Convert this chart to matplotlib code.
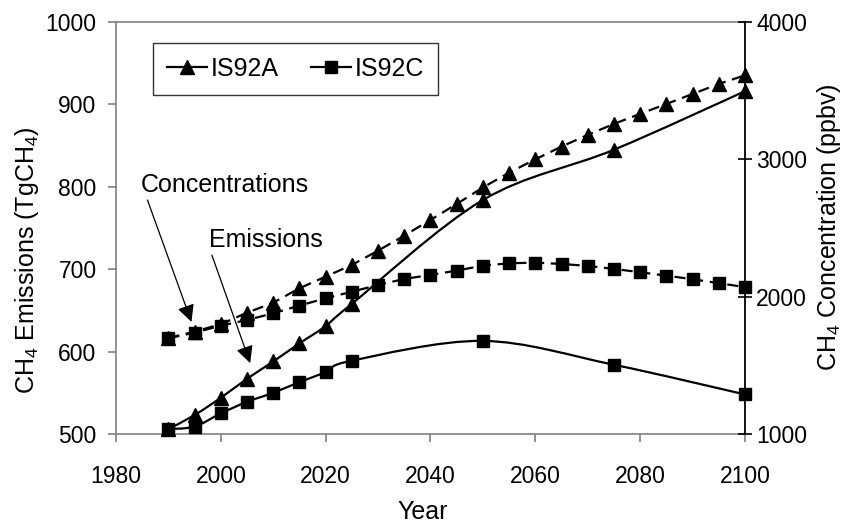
import numpy as np
import matplotlib
matplotlib.use("Agg")
import matplotlib.pyplot as plt
from matplotlib.path import Path
from matplotlib.patches import PathPatch
from matplotlib.lines import Line2D

plt.rcParams['font.family'] = ['Liberation Sans', 'DejaVu Sans']
plt.rcParams['mathtext.default'] = 'regular'

# Emissions (TgCH4), left axis
emis_years = [1990, 1995, 2000, 2005, 2010, 2015, 2020, 2025, 2050, 2075, 2100]
emis_a = [506, 523, 544, 567, 588, 610, 631, 658, 784, 845, 916]
emis_c = [506, 509, 525, 539, 550, 563, 575, 589, 613, 584, 548]

# Concentrations (ppbv), right axis
conc_years = list(range(1990, 2101, 5))
conc_a = [1700, 1745, 1800, 1883, 1956, 2061, 2146, 2231, 2335, 2445, 2559, 2675,
          2795, 2903, 3000, 3093, 3178, 3258, 3331, 3403, 3476, 3549, 3612]
conc_c = [1697, 1738, 1789, 1830, 1879, 1935, 1988, 2036, 2085, 2129, 2158, 2190,
          2226, 2243, 2248, 2238, 2224, 2202, 2178, 2153, 2127, 2098, 2070]

GRAY = '#808080'
TICK_FS = 16.5
TEXT_FS = 18


def smooth_path(xs, ys):
    # bezier segments with catmull-rom style control points (like a smoothed line)
    pts = np.column_stack([xs, ys]).astype(float)
    n = len(pts)
    verts = [pts[0]]
    codes = [Path.MOVETO]
    for i in range(n - 1):
        p0 = pts[i - 1] if i > 0 else pts[i]
        p1 = pts[i]
        p2 = pts[i + 1]
        p3 = pts[i + 2] if i + 2 < n else pts[i + 1]
        c1 = p1 + (p2 - p0) / 6.0
        c2 = p2 - (p3 - p1) / 6.0
        verts += [c1, c2, p2]
        codes += [Path.CURVE4] * 3
    return Path(verts, codes)


W, H = 846, 529
fig = plt.figure(figsize=(W / 100, H / 100), dpi=100)
ax = fig.add_axes([0.1371, 0.1796, 0.7435, 0.7788])
ax2 = ax.twinx()

# emissions: smoothed solid lines
for ys, mk, ms in [(emis_a, '^', 9.5), (emis_c, 's', 8)]:
    ax.add_patch(PathPatch(smooth_path(emis_years, ys), fill=False,
                           edgecolor='black', lw=1.6, zorder=3))
    ax.plot(emis_years, ys, linestyle='none', marker=mk, ms=ms,
            color='black', zorder=4, clip_on=False)

# concentrations: dashed lines
for ys, mk, ms in [(conc_a, '^', 9.5), (conc_c, 's', 8)]:
    ax2.plot(conc_years, ys, color='black', lw=1.6, linestyle=(0, (5, 3)),
             marker=mk, ms=ms, clip_on=False)

ax.set_xlim(1980, 2100)
ax.set_ylim(500, 1000)
ax2.set_ylim(1000, 4000)
ax.set_xticks(range(1980, 2101, 20))
ax.set_yticks(range(500, 1001, 100))
ax2.set_yticks(range(1000, 4001, 1000))

for s in ['left', 'bottom', 'top']:
    ax.spines[s].set_color(GRAY)
    ax.spines[s].set_linewidth(1.2)
ax.spines['right'].set_visible(False)
for s in ['left', 'bottom', 'top']:
    ax2.spines[s].set_visible(False)
ax2.spines['right'].set_color('black')
ax2.spines['right'].set_linewidth(1.3)

ax.tick_params(axis='both', colors=GRAY, labelcolor='black', labelsize=TICK_FS,
               length=6, width=1.2, direction='out')
ax.tick_params(axis='x', pad=16)
ax.tick_params(axis='y', pad=8)
ax2.tick_params(axis='y', colors='black', labelsize=TICK_FS, length=10, width=1.2,
                direction='inout', pad=3)

# axis titles placed by their centres in figure pixels
fig.text(423 / W, 1 - 512 / H, 'Year', fontsize=TEXT_FS, ha='center', va='center')
fig.text(27 / W, 1 - 260 / H, 'CH$_4$ Emissions (TgCH$_4$)', fontsize=TEXT_FS,
         rotation=90, ha='center', va='center')
fig.text(829 / W, 1 - 227 / H, 'CH$_4$ Concentration (ppbv)', fontsize=TEXT_FS,
         rotation=90, ha='center', va='center')

arrow = dict(arrowstyle='-|>', color='black', lw=0.9, mutation_scale=26,
             shrinkA=0, shrinkB=0)
ax.annotate('', xy=(1994.4, 636), xytext=(1986.0, 784), arrowprops=arrow)
ax.text(2000.8, 802, 'Concentrations', fontsize=TEXT_FS, ha='center', va='center')
ax.annotate('', xy=(2005.6, 586), xytext=(1998.3, 717), arrowprops=arrow)
ax.text(2008.6, 735, 'Emissions', fontsize=TEXT_FS, ha='center', va='center')

handles = [Line2D([], [], color='black', lw=1.6, marker='^', ms=9.5),
           Line2D([], [], color='black', lw=1.6, marker='s', ms=8)]
leg = ax.legend(handles, ['IS92A', 'IS92C'], ncol=2, loc='upper left',
                bbox_to_anchor=(0.059, 0.949), borderaxespad=0, fontsize=TEXT_FS,
                frameon=True, fancybox=False, handlelength=1.6,
                handletextpad=0.15, columnspacing=1.3, borderpad=0.55)
leg.get_frame().set_edgecolor('black')
leg.get_frame().set_linewidth(1.0)

fig.savefig('out.png', dpi=100)
